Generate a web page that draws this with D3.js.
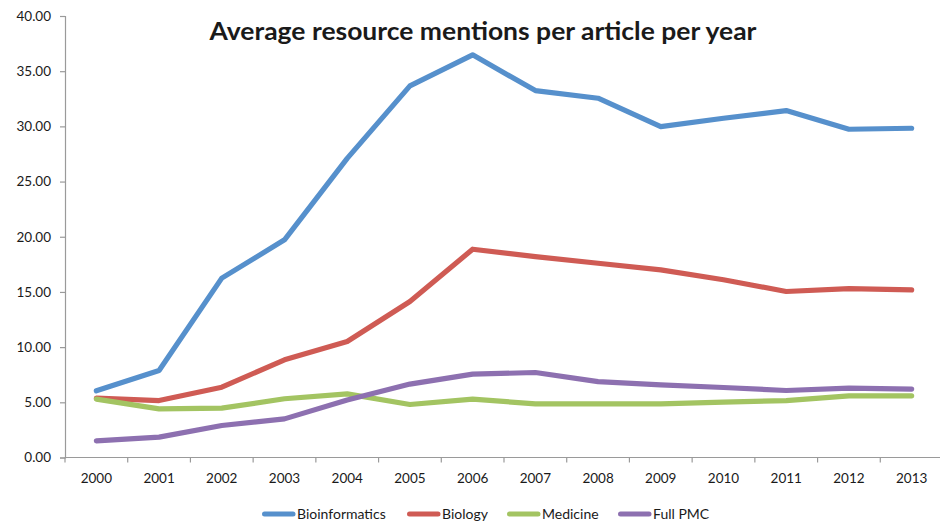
<!DOCTYPE html>
<html>
<head>
<meta charset="utf-8">
<script src="https://cdn.jsdelivr.net/npm/d3@7"></script>
<style>
  html, body { margin: 0; padding: 0; background: #fff; }
  svg { display: block; }
  text { font-family: Lato, "Open Sans", sans-serif; fill: #1a1a1a; }
</style>
</head>
<body>
<svg id="chart" width="940" height="523"></svg>
<script>
// Average resource mentions per article, by year and corpus
const years = ["2000","2001","2002","2003","2004","2005","2006","2007","2008","2009","2010","2011","2012","2013"];
const bioinformatics = [6.04, 7.88, 16.25, 19.72, 27.10, 33.67, 36.48, 33.24, 32.55, 29.98, 30.74, 31.43, 29.74, 29.83];
const biology        = [5.38, 5.16, 6.37, 8.85, 10.51, 14.13, 18.87, 18.20, 17.60, 17.00, 16.10, 15.04, 15.30, 15.19];
const medicine       = [5.29, 4.41, 4.47, 5.32, 5.77, 4.80, 5.29, 4.86, 4.86, 4.86, 5.02, 5.16, 5.59, 5.59];
const fullPMC        = [1.51, 1.85, 2.90, 3.50, 5.20, 6.65, 7.55, 7.70, 6.88, 6.58, 6.34, 6.07, 6.28, 6.20];
const seriesNames = ["Bioinformatics", "Biology", "Medicine", "Full PMC"];
const seriesColors = ["#5690cc", "#cf5b54", "#a3c462", "#8d70b0"];
const yTicks = [0, 5, 10, 15, 20, 25, 30, 35, 40];
const title = "Average resource mentions per article per year";

const series = [bioinformatics, biology, medicine, fullPMC].map((vals, i) => ({
  name: seriesNames[i], color: seriesColors[i], values: vals
}));

const svg = d3.select("#chart");
const plotLeft = 65, plotRight = 943, plotTop = 16, plotBottom = 457.5;

const x = d3.scaleBand().domain(years).range([plotLeft, plotRight]).paddingInner(0).paddingOuter(0);
const y = d3.scaleLinear().domain([0, 40]).range([plotBottom, plotTop]);

// Y axis
const yAxis = svg.append("g")
  .attr("transform", `translate(${plotLeft},0)`)
  .call(d3.axisLeft(y).tickValues(yTicks).tickFormat(d3.format(".2f")).tickSize(5).tickPadding(9));
yAxis.select(".domain").attr("stroke", "#9a9a9a").attr("stroke-width", 1.2);
yAxis.selectAll(".tick line").attr("stroke", "#9a9a9a").attr("stroke-width", 1.2);
yAxis.selectAll(".tick text").attr("font-size", 13.5).attr("fill", "#1a1a1a")
  .attr("font-family", "Lato, 'Open Sans', sans-serif");

// X axis: ticks fall on band boundaries, labels at band centres
const xg = svg.append("g").attr("transform", `translate(0,${plotBottom})`);
xg.append("line").attr("x1", plotLeft).attr("x2", 940).attr("y1", 0).attr("y2", 0)
  .attr("stroke", "#9a9a9a").attr("stroke-width", 1.2);
xg.selectAll("line.tick").data(years).join("line").attr("class", "tick")
  .attr("x1", d => x(d)).attr("x2", d => x(d)).attr("y1", 0).attr("y2", 5)
  .attr("stroke", "#9a9a9a").attr("stroke-width", 1.2);
xg.selectAll("text.lbl").data(years).join("text").attr("class", "lbl")
  .attr("x", d => x(d) + x.bandwidth() / 2).attr("y", 25)
  .attr("text-anchor", "middle").attr("font-size", 13.5).text(d => d);

// Lines
const line = d3.line()
  .x((d, i) => x(years[i]) + x.bandwidth() / 2)
  .y(d => y(d));

svg.append("g").selectAll("path").data(series).join("path")
  .attr("d", s => line(s.values))
  .attr("fill", "none")
  .attr("stroke", s => s.color)
  .attr("stroke-width", 5.2)
  .attr("stroke-linejoin", "round")
  .attr("stroke-linecap", "round");

// Title
svg.append("text")
  .attr("x", 483).attr("y", 40)
  .attr("text-anchor", "middle")
  .attr("font-size", 25).attr("font-weight", "bold")
  .attr("fill", "#000")
  .attr("textLength", 547).attr("lengthAdjust", "spacingAndGlyphs")
  .text(title);

// Legend
const legendX = [262, 407, 507, 618];
const lg = svg.append("g").attr("transform", "translate(0,514)");
series.forEach((s, i) => {
  const g = lg.append("g").attr("transform", `translate(${legendX[i]},0)`);
  g.append("line").attr("x1", 2.5).attr("x2", 31).attr("y1", 0).attr("y2", 0)
    .attr("stroke", s.color).attr("stroke-width", 5).attr("stroke-linecap", "round");
  g.append("text").attr("x", 35).attr("y", 5).attr("font-size", 14).text(s.name);
});
</script>
</body>
</html>
